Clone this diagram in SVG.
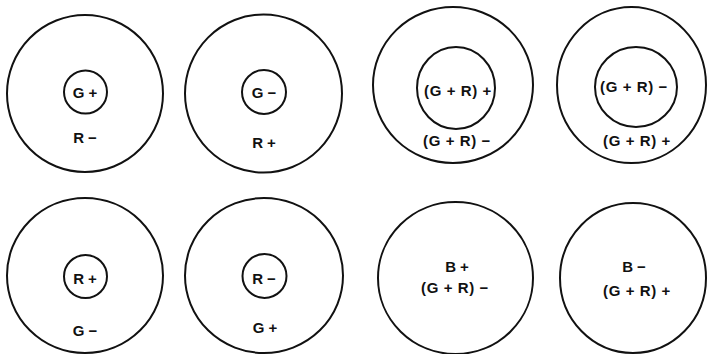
<svg xmlns="http://www.w3.org/2000/svg" width="707" height="354" viewBox="0 0 707 354">
<style>
.c{fill:none;stroke:#111;stroke-width:2}
.t{font-family:"Liberation Sans",Arial,sans-serif;font-weight:bold;font-size:15px;fill:#111;text-anchor:middle}
.w{letter-spacing:0.6px}
</style>
<rect width="707" height="354" fill="#fff"/>
<g id="n1">
<ellipse class="c" cx="85" cy="93.5" rx="78" ry="78.5"/>
<circle class="c" cx="85.5" cy="92" r="21.5"/>
<text class="t" x="85" y="97.5">G<tspan dx="4">+</tspan></text>
<text class="t" x="85" y="142.5">R<tspan dx="4">−</tspan></text>
</g>
<g id="n2">
<ellipse class="c" cx="263.5" cy="93.5" rx="78.5" ry="79"/>
<circle class="c" cx="264" cy="92" r="22"/>
<text class="t" x="264" y="97.5">G<tspan dx="4">−</tspan></text>
<text class="t" x="264" y="147.5">R<tspan dx="4">+</tspan></text>
</g>
<g id="n3">
<ellipse class="c" cx="453" cy="85" rx="80" ry="78"/>
<ellipse class="c" cx="456" cy="88" rx="39" ry="41"/>
<text class="t w" x="458" y="95.5">(G + R) +</text>
<text class="t w" x="457" y="145.5">(G + R) −</text>
</g>
<g id="n4">
<ellipse class="c" cx="631.5" cy="85" rx="74.5" ry="78"/>
<ellipse class="c" cx="636" cy="87" rx="41" ry="40"/>
<text class="t w" x="634" y="91.5">(G + R) −</text>
<text class="t w" x="637" y="145.5">(G + R) +</text>
</g>
<g id="n5">
<ellipse class="c" cx="85" cy="275.5" rx="78" ry="77.5"/>
<circle class="c" cx="85.5" cy="276.5" r="21.5"/>
<text class="t" x="85" y="283.5">R<tspan dx="4">+</tspan></text>
<text class="t" x="85" y="335.5">G<tspan dx="4">−</tspan></text>
</g>
<g id="n6">
<ellipse class="c" cx="264" cy="275.5" rx="79" ry="77.5"/>
<circle class="c" cx="264.5" cy="276" r="22"/>
<text class="t" x="264" y="283.5">R<tspan dx="4">−</tspan></text>
<text class="t" x="265" y="332.5">G<tspan dx="4">+</tspan></text>
</g>
<g id="n7">
<ellipse class="c" cx="455.5" cy="278" rx="77.5" ry="76"/>
<text class="t" x="457" y="271.5">B<tspan dx="4">+</tspan></text>
<text class="t w" x="455" y="292.5">(G + R) −</text>
</g>
<g id="n8">
<ellipse class="c" cx="633" cy="278" rx="73" ry="75"/>
<text class="t" x="634" y="271.5">B<tspan dx="4">−</tspan></text>
<text class="t w" x="637" y="295.5">(G + R) +</text>
</g>
<g id="connectors"></g>
</svg>
